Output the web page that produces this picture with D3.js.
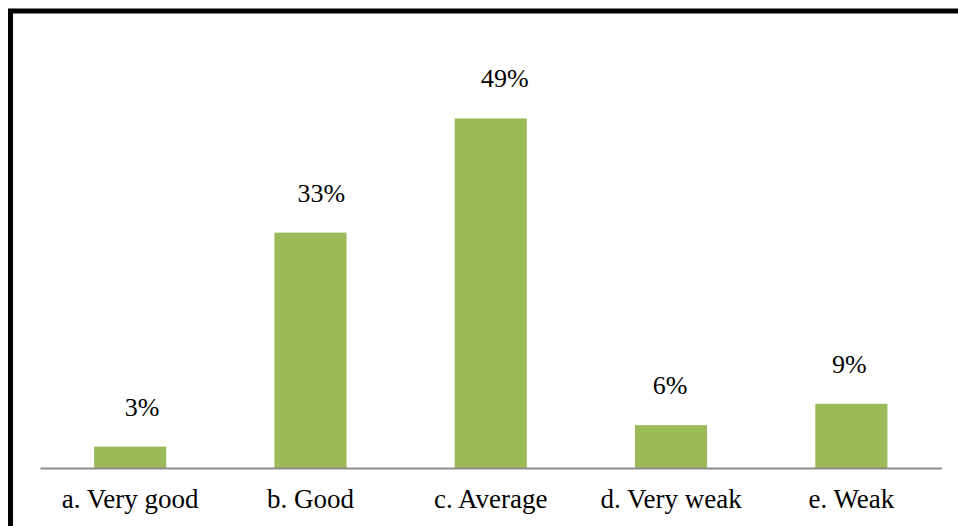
<!DOCTYPE html>
<html><head><meta charset="UTF-8"></head><body style="margin:0">
<script src="https://d3js.org/d3.v7.min.js"></script>
<script>
    const width = 958;
    const height = 526;
    // plot area
    const padding = { left: 40, right: 16, top: 40, bottom: 58 };
    const serif = "'Liberation Serif'";

    const categories = ['a. Very good', 'b. Good', 'c. Average', 'd. Very weak', 'e. Weak'];
    const values = [3, 33, 49, 6, 9];
    const valueLabels = ['3%', '33%', '49%', '6%', '9%'];
    // the data labels are not all centred on their bars in the original
    const labelShift = [12, 11, 14, -1, -2];

    const svg = d3.select('body').append('svg').attr('width', width).attr('height', height);

    // outer frame (only left & top visible in the crop)
    svg.append('rect')
        .attr('x', 10.5).attr('y', 11)
        .attr('width', 980).attr('height', 560)
        .attr('fill', 'none')
        .attr('stroke', '#000')
        .attr('stroke-width', 5);

    const xScale = d3.scaleBand()
        .domain(categories)
        .range([padding.left, width - padding.right - 0.5])
        .paddingInner(0.6)
        .paddingOuter(0.3);

    const yScale = d3.scaleLinear()
        .domain([0, 60])
        .range([height - padding.bottom, padding.top]);

    svg.selectAll('rect.bar')
        .data(values)
        .enter()
        .append('rect')
        .attr('class', 'bar')
        .attr('x', (d, i) => xScale(categories[i]))
        .attr('y', d => yScale(d))
        .attr('width', xScale.bandwidth())
        .attr('height', d => yScale(0) - yScale(d))
        .attr('fill', '#9BBB59');

    svg.selectAll('text.val')
        .data(values)
        .enter()
        .append('text')
        .attr('class', 'val')
        .style('font-family', serif)
        .style('font-size', '26px')
        .attr('text-anchor', 'middle')
        .attr('x', (d, i) => xScale(categories[i]) + xScale.bandwidth() / 2 + labelShift[i])
        .attr('y', d => yScale(d) - 31)
        .text((d, i) => valueLabels[i]);

    // x axis
    const xAxis = svg.append('g')
        .attr('transform', 'translate(0,' + yScale(0) + ')')
        .call(d3.axisBottom(xScale).tickSize(0).tickSizeOuter(0));
    xAxis.select('.domain').attr('stroke', '#8c8c8c').attr('stroke-width', 2);
    xAxis.selectAll('.tick text')
        .attr('y', 40)
        .attr('dy', 0)
        .attr('fill', '#000')
        .style('font-family', serif)
        .style('font-size', '27px');
</script></body></html>
